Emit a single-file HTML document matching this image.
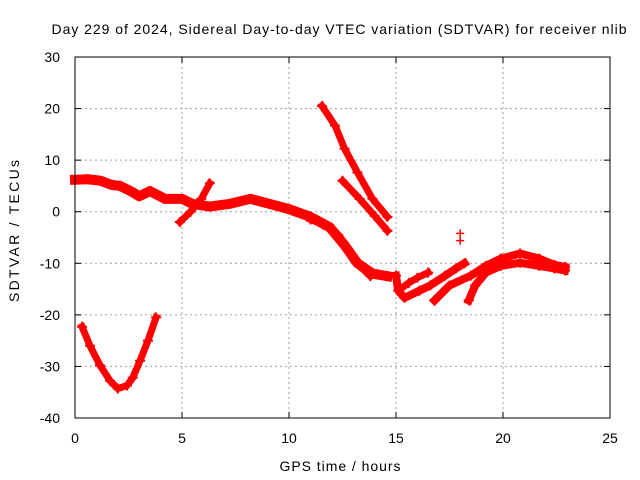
<!DOCTYPE html>
<html><head><meta charset="utf-8"><style>
body{margin:0;background:#fff}
svg{display:block;font-family:"Liberation Sans",Arial,sans-serif}
</style></head><body>
<svg id="chart" width="640" height="480">
<rect width="640" height="480" fill="#fff"/>
<text x="339" y="34" font-size="14" text-anchor="middle" textLength="575" lengthAdjust="spacing">Day 229 of 2024, Sidereal Day-to-day VTEC variation (SDTVAR) for receiver nlib</text>
<text x="340" y="471" font-size="14" text-anchor="middle" textLength="121" lengthAdjust="spacing">GPS time / hours</text>
<text transform="translate(19,231) rotate(-90)" font-size="14" text-anchor="middle" textLength="142" lengthAdjust="spacing">SDTVAR / TECUs</text>
<g id="grid"></g><g id="marks"></g>
<rect x="75" y="57" width="535" height="361" fill="none" stroke="#000" stroke-width="1"/>
<g id="ticks"></g>
</svg>
<script>
const xTicks=[0,5,10,15,20,25];
const yTicks=[30,20,10,0,-10,-20,-30,-40];
const mainBand=[[0,6.2],[0.6,6.3],[1.2,6],[1.7,5.2],[2.1,5],[2.6,4],[3,3],[3.5,4],[4.2,2.5],[5,2.5],[5.5,1.5],[6.3,1],[7.2,1.5],[8.2,2.5],[9.1,1.5],[10,0.5],[11,-1],[11.9,-3],[12.6,-6.5],[13.2,-10],[13.9,-12],[14.6,-12.5]];
const mainLower=[[11,-1.5],[11.6,-2.5],[12.3,-4.5],[12.8,-7.5],[13.3,-10.5],[13.8,-12.5]];
const spike=[[4.9,-2],[5.4,0],[5.9,2.5],[6.3,5.5]];
const vCurve=[[0.33,-22.3],[0.7,-26],[1.17,-29.8],[1.64,-32.8],[2.0,-34.3],[2.43,-33.7],[2.7,-32.2],[3.04,-28.9],[3.41,-25],[3.79,-20.5]];
const steepLine=[[11.54,20.5],[12.15,16.7],[12.6,12.2],[13.2,7.6],[13.9,2.5],[14.6,-1]];
const secondLine=[[12.5,6],[13.3,2.5],[14,-0.8],[14.6,-3.7]];
const rightA=[[15,-12.4],[15.1,-15.3],[15.4,-16.7],[16.1,-15.3],[16.6,-14.3],[17.3,-12.4],[17.8,-11],[18.2,-10]];
const rightB=[[15.2,-15],[15.6,-13.8],[16,-12.8],[16.5,-11.8]];
const rightC=[[16.8,-17.2],[17.5,-14.3],[18.5,-12.4],[19.2,-10.5],[19.9,-9.1],[20.8,-8.1],[21.7,-9.1],[22.4,-10.3],[22.9,-10.7]];
const rightD=[[18.4,-17.2],[18.7,-14.3],[19.2,-11.8],[19.9,-10.5],[20.8,-9.9],[21.7,-10.5],[22.4,-11],[22.9,-11.4]];
const outliers=[[18,-4.2],[18,-5.6]];
const series=[mainBand,mainLower,spike,vCurve,steepLine,secondLine,rightA,rightB,rightC,rightD];
const widths=[10,7,7,7,7,7,8,7,8,8];

const X0=75,X1=610,Y0=418,Y1=57;
const sx=v=>X0+(v-0)/(25-0)*(X1-X0);
const sy=v=>Y0-(v+40)/(70)*(Y0-Y1);
const NS='http://www.w3.org/2000/svg';
const grid=document.getElementById('grid'),ticks=document.getElementById('ticks'),marks=document.getElementById('marks');
function mk(tag,attrs,parent){const e=document.createElementNS(NS,tag);for(const k in attrs)e.setAttribute(k,attrs[k]);parent.appendChild(e);return e;}
xTicks.forEach(t=>{
  const x=sx(t);
  if(t>0&&t<25){const g=mk('line',{x1:x,x2:x,y1:Y1,y2:Y0,stroke:'#a0a0a0','stroke-dasharray':'2,3'},grid);
  
  }
  mk('line',{x1:x,x2:x,y1:Y0,y2:Y0-6,stroke:'#000'},ticks);
  mk('line',{x1:x,x2:x,y1:Y1,y2:Y1+6,stroke:'#000'},ticks);
  const l=mk('text',{x:x,y:443,'font-size':14,'text-anchor':'middle'},ticks);l.textContent=t;
  
  
});
yTicks.forEach(t=>{
  const y=sy(t);
  if(t>-40&&t<30){const g=mk('line',{x1:X0,x2:X1,y1:y,y2:y,stroke:'#a0a0a0','stroke-dasharray':'2,3'},grid);
  
  }
  mk('line',{x1:X0,x2:X0+6,y1:y,y2:y,stroke:'#000'},ticks);
  mk('line',{x1:X1,x2:X1-6,y1:y,y2:y,stroke:'#000'},ticks);
  const l=mk('text',{x:60,y:y+5,'font-size':14,'text-anchor':'end'},ticks);l.textContent=t;
  
  
});
series.forEach((s,i)=>{
  const p=mk('polyline',{points:s.map(d=>sx(d[0])+','+sy(d[1])).join(' '),fill:'none',stroke:'#f00','stroke-width':widths[i],'stroke-linejoin':'round','stroke-linecap':'square'},marks);
  
  
  s.forEach(d=>{
    const m=mk('path',{d:`M${sx(d[0])-5},${sy(d[1])}h10M${sx(d[0])},${sy(d[1])-5}v10`,stroke:'#f00','stroke-width':2},marks);
    
    
  });
});
outliers.forEach(d=>{
  const m=mk('path',{d:`M${sx(d[0])-4},${sy(d[1])}h8M${sx(d[0])},${sy(d[1])-4}v8`,stroke:'#f00','stroke-width':1.5},marks);
  
  
});
</script>
</body></html>
